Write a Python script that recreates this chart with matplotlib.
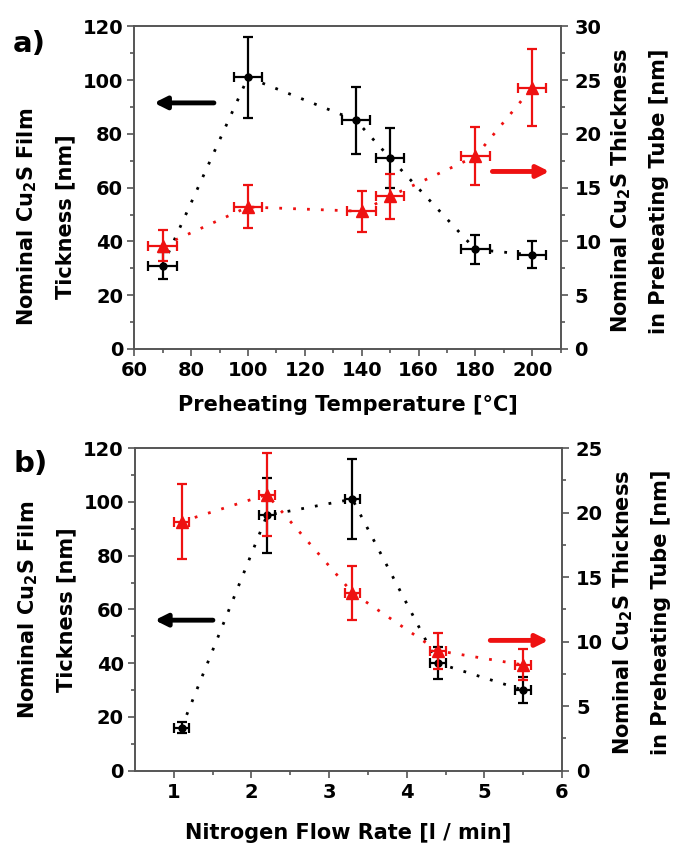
import matplotlib
matplotlib.use("Agg")
import matplotlib.pyplot as plt

plt.rcParams['font.family'] = ['DejaVu Sans']
plt.rcParams['font.weight'] = 'bold'
plt.rcParams['mathtext.fontset'] = 'dejavusans'
plt.rcParams['mathtext.default'] = 'bf'

# panel a) preheating temperature
temp = [70, 100, 138, 150, 180, 200]
film_a = [31, 101, 85, 71, 37, 35]
film_a_err = [5, 15, 12.5, 11, 5.5, 5]
tube_temp = [70, 100, 140, 150, 180, 200]
tube_a = [9.6, 13.2, 12.8, 14.2, 17.9, 24.3]
tube_a_err = [1.45, 2.0, 1.9, 2.1, 2.7, 3.6]
temp_xerr = 5

# panel b) nitrogen flow rate
flow = [1.1, 2.2, 3.3, 4.4, 5.5]
film_b = [16, 95, 101, 40, 30]
film_b_err = [2, 14, 15, 6, 4.7]
tube_b = [19.3, 21.4, 13.8, 9.3, 8.2]
tube_b_err = [2.9, 3.2, 2.1, 1.4, 1.2]
flow_xerr = 0.1

RED = '#ee1111'
DOT = (0, (1, 4))
FS = 14    # tick labels
LFS = 15   # axis labels
fig = plt.figure(figsize=(6.78, 8.47), dpi=100)


def panel(rect, x_black, y_black, eb, xe, x_red, y_red, er, xlim, rmax,
          xticks, xminor, rticks, rminor, xlabel, tag, lab_pos, arrows):
    ax = fig.add_axes(rect)
    ax2 = ax.twinx()
    ax.errorbar(x_black, y_black, yerr=eb, xerr=xe, color='black', fmt='o', ms=5,
                capsize=3.5, elinewidth=1.6, capthick=1.6, zorder=3)
    ax.plot(x_black, y_black, color='black', linestyle=DOT, lw=2)
    ax2.errorbar(x_red, y_red, yerr=er, xerr=xe, color=RED, fmt='^', ms=8,
                 capsize=3.5, elinewidth=1.6, capthick=1.6, zorder=3)
    ax2.plot(x_red, y_red, color=RED, linestyle=DOT, lw=2)
    ax.set_xlim(*xlim)
    ax.set_ylim(0, 120)
    ax2.set_ylim(0, rmax)
    ax.set_xticks(xticks)
    ax.set_xticks(xminor, minor=True)
    ax.set_yticks(range(0, 121, 20))
    ax.set_yticks(range(10, 120, 20), minor=True)
    ax2.set_yticks(rticks)
    ax2.set_yticks(rminor, minor=True)
    for a in (ax, ax2):
        a.tick_params(which='major', direction='out', length=5, width=1.2,
                      labelsize=FS, pad=3, color='#555555')
        a.tick_params(which='minor', direction='out', length=3, width=1.2, color='#555555')
        for s in a.spines.values():
            s.set_color('#555555')
            s.set_linewidth(1.2)
    ax.tick_params(axis='x', pad=4)
    ax2.tick_params(axis='y', pad=5)
    ax.set_xlabel(xlabel, fontsize=LFS, fontweight='bold', va='center')
    ax.xaxis.set_label_coords(0.5, lab_pos[0])
    ax.set_ylabel('Nominal Cu$_2$S Film\nTickness [nm]', fontsize=LFS, fontweight='bold',
                  linespacing=2.0, va='center')
    ax.yaxis.set_label_coords(-0.208, lab_pos[1])
    ax2.set_ylabel('Nominal Cu$_2$S Thickness\nin Preheating Tube [nm]', fontsize=LFS,
                   fontweight='bold', rotation=90, linespacing=2.0, va='center')
    ax2.yaxis.set_label_coords(1.185, 0.49)
    ax.text(-0.285, lab_pos[2], tag, transform=ax.transAxes, fontsize=21,
            fontweight='bold', va='center')
    (bx0, bx1, by), (rx0, rx1, ry) = arrows
    ax.annotate('', xy=(bx0, by), xytext=(bx1, by),
                arrowprops=dict(arrowstyle='-|>', color='black', lw=3.5, mutation_scale=18))
    ax2.annotate('', xy=(rx1, ry), xytext=(rx0, ry),
                 arrowprops=dict(arrowstyle='-|>', color=RED, lw=3.5, mutation_scale=18))
    return ax


panel([0.198, 0.588, 0.629, 0.381], temp, film_a, film_a_err, temp_xerr,
      tube_temp, tube_a, tube_a_err, (60, 210), 30,
      range(60, 201, 20), range(70, 211, 20), range(0, 31, 5), [2.5 + 5 * i for i in range(6)],
      'Preheating Temperature [°C]', 'a)', (-0.173, 0.41, 0.944),
      ((66, 89, 91.5), (185, 207, 16.5)))

panel([0.199, 0.090, 0.630, 0.381], flow, film_b, film_b_err, flow_xerr,
      flow, tube_b, tube_b_err, (0.5, 6), 25,
      range(1, 7), [1.5, 2.5, 3.5, 4.5, 5.5], range(0, 26, 5), [2.5 + 5 * i for i in range(5)],
      'Nitrogen Flow Rate [l / min]', 'b)', (-0.192, 0.5, 0.95),
      ((0.72, 1.54, 56), (5.04, 5.86, 10.1)))

fig.savefig('out.png', dpi=100)
